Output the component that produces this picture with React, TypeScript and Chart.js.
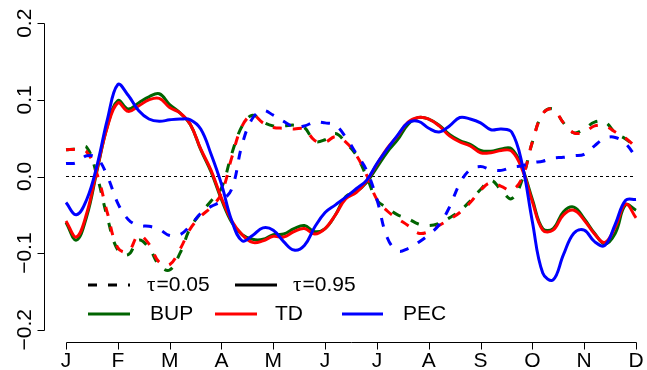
import React, { useEffect, useRef } from "react";
import { Chart, registerables } from "chart.js";

Chart.register(...registerables);

// ---- data ----
const monthLabels = ["J", "F", "M", "A", "M", "J", "J", "A", "S", "O", "N", "D"];
const monthTicks = [0, 1, 2, 3, 4, 5, 6, 7, 8, 9, 10, 11];
const yTicks = [-0.2, -0.1, 0, 0.1, 0.2];
const yTickLabels = ["\u22120.2", "\u22120.1", "0.0", "0.1", "0.2"];

const xGrid = [
  0, 0.2, 0.4, 0.6, 0.8, 1, 1.2, 1.4, 1.6, 1.8, 2, 2.2, 2.4, 2.6, 2.8, 3, 3.2, 3.4, 3.6, 3.8,
  4, 4.2, 4.4, 4.6, 4.8, 5, 5.2, 5.4, 5.6, 5.8, 6, 6.2, 6.4, 6.6, 6.8, 7, 7.2, 7.4, 7.6, 7.8,
  8, 8.2, 8.4, 8.6, 8.8, 9, 9.2, 9.4, 9.6, 9.8, 10, 10.2, 10.4, 10.6, 10.8, 11,
];

// tau = 0.95 (solid)
const bupHigh = [
  -0.060, -0.083, -0.052, 0.008, 0.066, 0.099, 0.088, 0.096, 0.104, 0.108,
  0.094, 0.083, 0.068, 0.035, 0.006, -0.030, -0.060, -0.076, -0.082, -0.082,
  -0.076, -0.075, -0.068, -0.064, -0.072, -0.068, -0.050, -0.026, -0.020, -0.008,
  0.012, 0.032, 0.048, 0.068, 0.077, 0.075, 0.067, 0.055, 0.047, 0.042,
  0.034, 0.033, 0.036, 0.036, 0.012, -0.030, -0.068, -0.068, -0.046, -0.040,
  -0.055, -0.074, -0.088, -0.074, -0.037, -0.044,
];
const tdHigh = [
  -0.058, -0.079, -0.048, 0.010, 0.065, 0.096, 0.085, 0.092, 0.100, 0.102,
  0.090, 0.083, 0.068, 0.036, 0.008, -0.028, -0.058, -0.076, -0.086, -0.084,
  -0.078, -0.079, -0.072, -0.068, -0.075, -0.068, -0.050, -0.029, -0.021, -0.006,
  0.016, 0.037, 0.053, 0.071, 0.077, 0.075, 0.066, 0.053, 0.045, 0.040,
  0.031, 0.031, 0.034, 0.033, 0.010, -0.033, -0.070, -0.070, -0.050, -0.044,
  -0.057, -0.075, -0.086, -0.066, -0.036, -0.054,
];
const pecHigh = [
  -0.034, -0.050, -0.030, 0.015, 0.075, 0.120, 0.106, 0.086, 0.075, 0.072,
  0.074, 0.075, 0.074, 0.062, 0.029, -0.010, -0.058, -0.084, -0.077, -0.067,
  -0.070, -0.085, -0.096, -0.090, -0.066, -0.047, -0.037, -0.027, -0.016, -0.005,
  0.017, 0.036, 0.054, 0.070, 0.072, 0.063, 0.058, 0.066, 0.077, 0.075,
  0.070, 0.061, 0.062, 0.058, 0.017, -0.059, -0.126, -0.135, -0.102, -0.074,
  -0.070, -0.085, -0.090, -0.062, -0.031, -0.030,
];

// tau = 0.05 (dashed)
const bupLow = [
  0.035, 0.036, 0.038, 0.000, -0.054, -0.096, -0.102, -0.083, -0.093, -0.116,
  -0.122, -0.100, -0.067, -0.048, -0.032, -0.015, 0.030, 0.066, 0.080, 0.071,
  0.066, 0.066, 0.067, 0.064, 0.046, 0.048, 0.056, 0.044, 0.028, 0.000,
  -0.031, -0.041, -0.050, -0.055, -0.062, -0.064, -0.061, -0.054, -0.045, -0.032,
  -0.017, -0.005, -0.018, -0.029, -0.005, 0.045, 0.082, 0.088, 0.070, 0.057,
  0.062, 0.071, 0.071, 0.057, 0.049, 0.038,
];
const tdLow = [
  0.035, 0.035, 0.032, 0.003, -0.048, -0.093, -0.098, -0.077, -0.088, -0.112,
  -0.115, -0.095, -0.068, -0.052, -0.040, -0.022, 0.025, 0.066, 0.080, 0.070,
  0.064, 0.063, 0.062, 0.062, 0.047, 0.045, 0.052, 0.045, 0.028, 0.002,
  -0.030, -0.045, -0.055, -0.064, -0.074, -0.072, -0.064, -0.056, -0.047, -0.034,
  -0.018, -0.008, -0.013, -0.018, -0.002, 0.045, 0.082, 0.088, 0.070, 0.057,
  0.058, 0.066, 0.066, 0.058, 0.050, 0.038,
];
const pecLow = [
  0.017, 0.018, 0.027, 0.024, 0.000, -0.035, -0.056, -0.064, -0.065, -0.069,
  -0.077, -0.076, -0.064, -0.048, -0.039, -0.032, -0.016, 0.042, 0.076, 0.086,
  0.080, 0.072, 0.065, 0.066, 0.071, 0.070, 0.067, 0.051, 0.030, 0.008,
  -0.030, -0.080, -0.097, -0.094, -0.086, -0.076, -0.063, -0.040, -0.009, 0.009,
  0.013, 0.009, 0.008, 0.012, 0.014, 0.018, 0.020, 0.024, 0.025, 0.027,
  0.029, 0.040, 0.050, 0.051, 0.043, 0.025,
];

const zeroLineX = [0, 11];
const zeroLineY = [0, 0];

const GREEN = "#006400";
const RED = "#ff0000";
const BLUE = "#0000ff";
const DASH = [9, 11];
const FONT = '21px "Liberation Sans", Arial, Helvetica, sans-serif';
const SERIF = '21px "Liberation Serif", "DejaVu Serif", serif';

function series(label: string, ys: number[], color: string, dashed: boolean, order: number) {
  return {
    label,
    data: xGrid.map((x, i) => ({ x, y: ys[i] })),
    borderColor: color,
    backgroundColor: color,
    borderWidth: 3,
    borderDash: dashed ? DASH : [],
    pointRadius: 0,
    tension: 0.4,
    fill: false,
    order,
  };
}

const rAxesPlugin = {
  id: "rAxes",
  afterDraw(chart: any) {
    const { ctx, chartArea } = chart;
    const xs = chart.scales.x;
    const ys = chart.scales.y;
    ctx.save();
    ctx.strokeStyle = "#000";
    ctx.fillStyle = "#000";
    ctx.lineWidth = 1;
    ctx.setLineDash([]);
    ctx.font = FONT;

    // y axis
    const ax = Math.round(chartArea.left) + 0.5;
    ctx.beginPath();
    ctx.moveTo(ax, Math.round(ys.getPixelForValue(yTicks[0])) + 0.5);
    ctx.lineTo(ax, Math.round(ys.getPixelForValue(yTicks[yTicks.length - 1])) + 0.5);
    yTicks.forEach((t) => {
      const py = Math.round(ys.getPixelForValue(t)) + 0.5;
      ctx.moveTo(ax, py);
      ctx.lineTo(ax - 7, py);
    });
    ctx.stroke();
    yTicks.forEach((t, i) => {
      ctx.save();
      ctx.translate(ax - 14, ys.getPixelForValue(t));
      ctx.rotate(-Math.PI / 2);
      ctx.textAlign = "center";
      ctx.textBaseline = "alphabetic";
      ctx.fillText(yTickLabels[i], 0, 0);
      ctx.restore();
    });

    // x axis
    const ay = Math.round(chartArea.bottom) + 0.5;
    ctx.beginPath();
    ctx.moveTo(Math.round(xs.getPixelForValue(monthTicks[0])) + 0.5, ay);
    ctx.lineTo(Math.round(xs.getPixelForValue(monthTicks[monthTicks.length - 1])) + 0.5, ay);
    monthTicks.forEach((t) => {
      const px = Math.round(xs.getPixelForValue(t)) + 0.5;
      ctx.moveTo(px, ay);
      ctx.lineTo(px, ay + 7);
    });
    ctx.stroke();
    ctx.textAlign = "center";
    ctx.textBaseline = "alphabetic";
    monthTicks.forEach((t, i) => {
      ctx.fillText(monthLabels[i], xs.getPixelForValue(t), ay + 24);
    });

    // legend
    const seg = (x1: number, x2: number, y: number, color: string, dash: number[]) => {
      ctx.save();
      ctx.strokeStyle = color;
      ctx.lineWidth = 3;
      ctx.setLineDash(dash);
      ctx.beginPath();
      ctx.moveTo(x1, y);
      ctx.lineTo(x2, y);
      ctx.stroke();
      ctx.restore();
    };
    const txt = (s: string, x: number, y: number) => {
      ctx.font = FONT;
      ctx.textAlign = "left";
      ctx.textBaseline = "middle";
      ctx.fillText(s, x, y);
    };
    const tauTxt = (rest: string, x: number, y: number) => {
      ctx.textAlign = "left";
      ctx.textBaseline = "middle";
      ctx.font = SERIF;
      ctx.fillText("\u03c4", x, y);
      const w = ctx.measureText("\u03c4").width;
      ctx.font = FONT;
      ctx.fillText(rest, x + w + 1, y);
    };
    const r1 = 285;
    const r2 = 314;
    seg(88, 130, r1, "#000", DASH);
    tauTxt("=0.05", 147, r1);
    seg(235, 277, r1, "#000", []);
    tauTxt("=0.95", 293, r1);
    seg(88, 130, r2, GREEN, []);
    txt("BUP", 150, r2);
    seg(215, 257, r2, RED, []);
    txt("TD", 275, r2);
    seg(342, 383, r2, BLUE, []);
    txt("PEC", 403, r2);

    ctx.restore();
  },
};

export default function App() {
  const canvasRef = useRef<HTMLCanvasElement | null>(null);

  useEffect(() => {
    document.body.style.margin = "0";
    const canvas = canvasRef.current;
    if (!canvas) return;
    const chart = new Chart(canvas, {
      type: "line",
      data: {
        datasets: [
          {
            label: "zero",
            data: zeroLineX.map((x, i) => ({ x, y: zeroLineY[i] })),
            borderColor: "#000",
            borderWidth: 1,
            borderDash: [3, 3],
            pointRadius: 0,
            fill: false,
            order: 10,
          },
          series("BUP τ=0.95", bupHigh, GREEN, false, 6),
          series("BUP τ=0.05", bupLow, GREEN, true, 5),
          series("TD τ=0.95", tdHigh, RED, false, 4),
          series("TD τ=0.05", tdLow, RED, true, 3),
          series("PEC τ=0.95", pecHigh, BLUE, false, 2),
          series("PEC τ=0.05", pecLow, BLUE, true, 1),
        ] as any,
      },
      options: {
        animation: false,
        responsive: true,
        maintainAspectRatio: false,
        layout: { padding: { left: 44, right: 0, top: 11, bottom: 28 } },
        plugins: { legend: { display: false }, tooltip: { enabled: false } },
        events: [],
        scales: {
          x: { type: "linear", display: false, min: -0.4246, max: 11.212 },
          y: { type: "linear", display: false, min: -0.216, max: 0.216 },
        },
      },
      plugins: [rAxesPlugin],
    });
    return () => chart.destroy();
  }, []);

  return (
    <div style={{ position: "fixed", left: 0, top: 0, width: 647, height: 370, background: "#fff" }}>
      <canvas ref={canvasRef} />
    </div>
  );
}
